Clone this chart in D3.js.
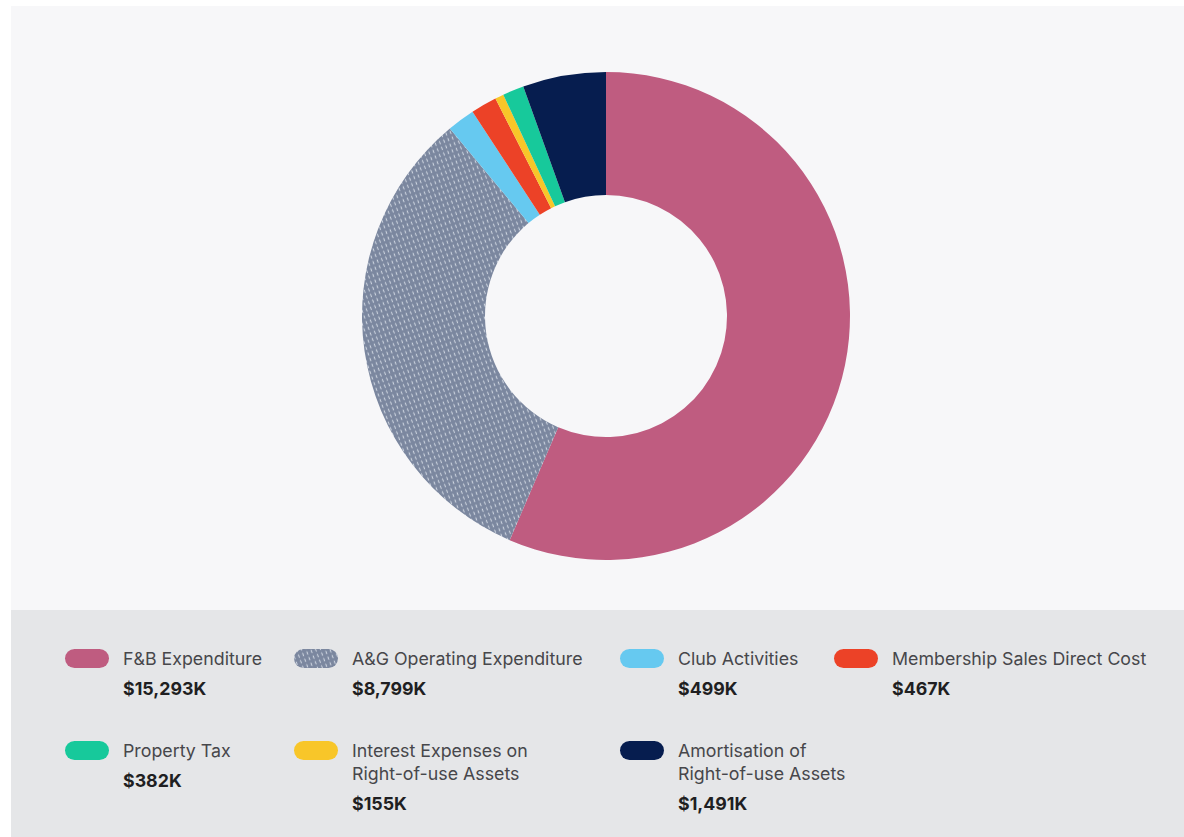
<!DOCTYPE html>
<html><head><meta charset="utf-8">
<script src="https://cdn.jsdelivr.net/npm/d3@7"></script>
<style>html,body{margin:0;padding:0;background:#fff;}svg{display:block;}</style>
</head><body>
<svg id="chart" width="1184" height="837"></svg>
<script>
const categories = ["F&B Expenditure","A&G Operating Expenditure","Club Activities","Membership Sales Direct Cost","Property Tax","Interest Expenses on Right-of-use Assets","Amortisation of Right-of-use Assets"];
const values = [15293, 8799, 499, 467, 382, 155, 1491];
const valueLabels = ["$15,293K","$8,799K","$499K","$467K","$382K","$155K","$1,491K"];
const labelLines = [["F&B Expenditure"],["A&G Operating Expenditure"],["Club Activities"],["Membership Sales Direct Cost"],["Property Tax"],["Interest Expenses on","Right-of-use Assets"],["Amortisation of","Right-of-use Assets"]];
// clockwise drawing order of the slices in the donut (indices into categories)
const sliceOrder = [0, 1, 2, 3, 5, 4, 6];
const colors = ["#bf5c80","url(#agPat)","#66c9f0","#ec4227","#17c99b","#f8c629","#061d4f"];

const svg = d3.select("#chart");
const W = 1184, H = 837;
svg.append("rect").attr("x",11).attr("y",6).attr("width",W-11).attr("height",604).attr("fill","#f7f7f9");
svg.append("rect").attr("x",11).attr("y",610).attr("width",W-11).attr("height",H-610).attr("fill","#e5e6e8");

const defs = svg.append("defs");
const pat = defs.append("pattern").attr("id","agPat").attr("patternUnits","userSpaceOnUse")
  .attr("width",4.5).attr("height",6).attr("patternTransform","rotate(-20)");
pat.append("rect").attr("width",4.5).attr("height",6).attr("fill","#7b879f");
pat.append("line").attr("x1",2.2).attr("y1",1).attr("x2",2.2).attr("y2",3.6)
  .attr("stroke","#cbd2de").attr("stroke-width",1.1).attr("stroke-linecap","round");

const cx = 606, cy = 316, rOuter = 244, rInner = 121;
const ordered = sliceOrder.map(i => ({i, v: values[i]}));
const pie = d3.pie().sort(null).value(d=>d.v)(ordered);
const arc = d3.arc().innerRadius(rInner).outerRadius(rOuter);
svg.append("g").attr("transform",`translate(${cx},${cy})`)
  .selectAll("path").data(pie).join("path")
  .attr("d",arc).attr("fill",d=>colors[d.data.i]);

const colX = [65, 294, 620, 834];
const rowY = [649, 741];
const font = "Inter, 'Noto Sans', sans-serif";
const lg = svg.append("g");
categories.forEach((c,i)=>{
  const col = i % 4, row = Math.floor(i/4);
  const x = colX[col], y = rowY[row];
  const g = lg.append("g").attr("transform",`translate(${x},${y})`);
  g.append("rect").attr("width",44).attr("height",19).attr("rx",9.5).attr("fill",colors[i]);
  const lines = labelLines[i];
  lines.forEach((t,k)=>{
    g.append("text").attr("x",58).attr("y",16+k*23).text(t)
      .attr("font-family",font).attr("font-size",17.8).attr("fill","#47474b");
  });
  g.append("text").attr("x",58).attr("y",16+(lines.length-1)*23+30).text(valueLabels[i])
    .attr("font-family",font).attr("font-size",17.8).attr("font-weight",700).attr("fill","#1f1f22");
});
</script>
</body></html>
